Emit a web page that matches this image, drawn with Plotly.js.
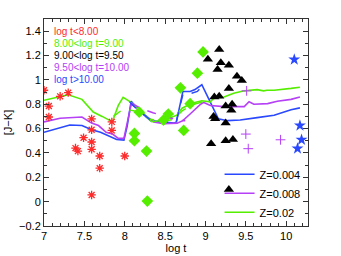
<!DOCTYPE html>
<html><head><meta charset="utf-8">
<script src="https://cdn.plot.ly/plotly-3.0.1.min.js"></script>
<style>html,body{margin:0;padding:0;background:#fff}#chart{width:341px;height:256px}</style>
</head><body><div id="chart"></div>
<script>
// observed clusters
var redX = [7.0, 7.06, 7.06, 7.2, 7.3, 7.39, 7.42, 7.49, 7.59, 7.59, 7.59, 7.59, 7.59, 7.69, 7.69, 7.84, 7.84, 8.0];
var redY = [0.915, 0.785, 0.695, 0.865, 0.895, 0.44, 0.415, 0.525, 0.68, 0.59, 0.49, 0.43, 0.055, 0.375, 0.275, 0.655, 0.585, 0.375];
var greenX = [8.12, 8.12, 8.18, 8.27, 8.28, 8.48, 8.54, 8.69, 8.73, 8.81, 8.90, 8.97];
var greenY = [0.56, 0.50, 0.735, 0.415, 0.005, 0.67, 0.72, 0.935, 0.585, 0.805, 1.055, 1.23];
var blackX = [9.17, 9.03, 9.19, 9.15, 9.29, 9.39, 9.45, 9.29, 9.11, 9.17, 9.25, 9.33, 9.32, 9.10, 9.12, 9.25, 9.07, 9.25, 9.34, 9.29];
var blackY = [1.25, 1.17, 1.14, 1.085, 1.12, 1.03, 0.995, 0.93, 0.86, 0.865, 0.785, 0.80, 0.75, 0.70, 0.68, 0.645, 0.475, 0.50, 0.51, 0.10];
var magX = [9.51, 9.50, 9.53, 9.93];
var magY = [0.91, 0.555, 0.435, 0.508];
var blueX = [10.10, 10.17, 10.19, 10.14];
var blueY = [1.167, 0.625, 0.508, 0.436];

// model tracks
var z004X = [7.0, 7.15, 7.32, 7.47, 7.59, 7.70, 7.80, 7.90, 7.99, 8.03, 8.08, 8.19, 8.32, 8.44, 8.55, 8.61, 8.64, 8.72, 8.81, 8.87, 8.955, 8.995, 9.08, 9.16, 9.27, 9.43, 9.64, 9.85, 10.06, 10.17];
var z004Y = [0.57, 0.60, 0.63, 0.625, 0.59, 0.57, 0.54, 0.51, 0.505, 0.62, 0.825, 0.74, 0.665, 0.655, 0.65, 0.645, 0.655, 0.905, 0.905, 0.92, 0.96, 0.905, 0.78, 0.68, 0.665, 0.67, 0.69, 0.71, 0.755, 0.77];
var z008X = [7.0, 7.2, 7.47, 7.59, 7.675, 7.77, 7.85, 7.92, 7.99, 8.03, 8.08, 8.15, 8.23, 8.36, 8.48, 8.65, 8.72, 8.81, 8.94, 8.98, 9.06, 9.23, 9.48, 9.54, 9.60, 9.77, 9.89, 10.06, 10.17];
var z008Y = [0.655, 0.685, 0.695, 0.645, 0.625, 0.57, 0.555, 0.52, 0.52, 0.65, 0.80, 0.77, 0.72, 0.655, 0.64, 0.645, 0.665, 0.72, 0.80, 0.815, 0.79, 0.78, 0.78, 0.82, 0.80, 0.805, 0.825, 0.84, 0.86];
var z02X = [7.0, 7.3, 7.47, 7.61, 7.72, 7.85, 7.87, 7.92, 7.98, 8.065, 8.19, 8.335, 8.50, 8.645, 8.71, 8.83, 8.955, 9.06, 9.10, 9.23, 9.35, 9.48, 9.64, 9.72, 9.76, 9.85, 10.06, 10.17];
var z02Y = [0.833, 0.878, 0.84, 0.736, 0.70, 0.655, 0.70, 0.79, 0.856, 0.822, 0.753, 0.656, 0.67, 0.71, 0.767, 0.808, 0.828, 0.82, 0.847, 0.86, 0.89, 0.91, 0.92, 0.91, 0.915, 0.915, 0.93, 0.94];
var d02X = [7.86, 7.95, 8.05, 8.15, 8.3, 8.45, 8.6, 8.72, 8.85, 8.97];
var d02Y = [0.70, 0.745, 0.755, 0.74, 0.68, 0.66, 0.675, 0.75, 0.80, 0.82];
var d008X = [8.08, 8.2, 8.35, 8.5, 8.65, 8.75];
var d008Y = [0.81, 0.765, 0.73, 0.70, 0.67, 0.665];
var d004X = [8.06, 8.15, 8.3, 8.45, 8.6, 8.64, 8.72, 8.8, 8.9, 8.95];
var d004Y = [0.82, 0.76, 0.68, 0.66, 0.655, 0.66, 0.88, 0.885, 0.905, 0.94];

var groupLabels = ['log t<8.00', '8.00<log t=9.00', '9.00<log t=9.50', '9.50<log t=10.00', 'log t>10.00'];
var modelLabels = ['Z=0.004', 'Z=0.008', 'Z=0.02'];
var xTicks = [7, 7.5, 8, 8.5, 9, 9.5, 10];
var yTicks = [-0.2, 0, 0.2, 0.4, 0.6, 0.8, 1, 1.2, 1.4];

var cRed = '#ff2a2a', cGreen = '#55ee00', cBlack = '#000000', cMag = '#b540f5', cBlue = '#2a48ff';
var groupColors = [cRed, cGreen, cBlack, cMag, cBlue];

var traces = [
  {x: z004X, y: z004Y, mode: 'lines', name: modelLabels[0], line: {color: cBlue, width: 1.6}},
  {x: z008X, y: z008Y, mode: 'lines', name: modelLabels[1], line: {color: cMag, width: 1.6}},
  {x: z02X, y: z02Y, mode: 'lines', name: modelLabels[2], line: {color: cGreen, width: 1.6}},
  {x: d02X, y: d02Y, mode: 'lines', showlegend: false, line: {color: cGreen, width: 1.5, dash: 'dash'}},
  {x: d008X, y: d008Y, mode: 'lines', showlegend: false, line: {color: cMag, width: 1.5, dash: 'dash'}},
  {x: d004X, y: d004Y, mode: 'lines', showlegend: false, line: {color: cBlue, width: 1.5, dash: 'dash'}},
  {x: redX, y: redY, mode: 'markers', showlegend: false, marker: {symbol: 'asterisk-open', size: 7, color: cRed, line: {color: cRed, width: 1.3}}},
  {x: greenX, y: greenY, mode: 'markers', showlegend: false, marker: {symbol: 'diamond', size: 9, color: cGreen}},
  {x: blackX, y: blackY, mode: 'markers', showlegend: false, marker: {symbol: 'triangle-up', size: 9, color: cBlack}},
  {x: magX, y: magY, mode: 'markers', showlegend: false, marker: {symbol: 'cross-thin-open', size: 7, color: cMag, line: {color: cMag, width: 1}}},
  {x: blueX, y: blueY, mode: 'markers', showlegend: false, marker: {symbol: 'star', size: 9, color: cBlue}}
];

var annotations = groupLabels.map(function (t, i) {
  return {xref: 'paper', yref: 'paper', x: 0.03, y: 0.94 - i * 0.058, xanchor: 'left', yanchor: 'middle',
    text: t, showarrow: false, font: {size: 10, color: groupColors[i]}};
});

var ax = {showgrid: false, zeroline: false, showline: true, mirror: 'ticks', linecolor: '#333', linewidth: 1,
  ticks: 'inside', ticklen: 5, tickcolor: '#333', tickfont: {size: 11, color: '#000'}};

var layout = {
  width: 341, height: 256,
  margin: {l: 44, r: 33, t: 19, b: 30},
  paper_bgcolor: '#fff', plot_bgcolor: '#fff',
  font: {family: 'Arial, "Liberation Sans", sans-serif', color: '#000'},
  xaxis: Object.assign({}, ax, {range: [7, 10.27], tickvals: xTicks, ticktext: xTicks.map(String),
    minor: {dtick: 0.1, tick0: 7, ticklen: 3, ticks: 'inside', tickcolor: '#333'},
    title: {text: 'log t', font: {size: 11}, standoff: 2}}),
  yaxis: Object.assign({}, ax, {range: [-0.2, 1.5], tickvals: yTicks, ticktext: yTicks.map(function (v) { return v < 0 ? '\u22120.2' : String(v); }),
    minor: {dtick: 0.1, tick0: 0, ticklen: 3, ticks: 'inside', tickcolor: '#333'},
    title: {text: '[J\u2212K]', font: {size: 11}, standoff: 4}}),
  showlegend: true,
  legend: {x: 0.665, y: 0.32, xanchor: 'left', yanchor: 'top', bgcolor: 'rgba(0,0,0,0)', borderwidth: 0,
    itemwidth: 30, font: {size: 11}, tracegroupgap: 0},
  annotations: annotations
};

Plotly.newPlot('chart', traces, layout, {staticPlot: true, displayModeBar: false});
</script></body></html>
